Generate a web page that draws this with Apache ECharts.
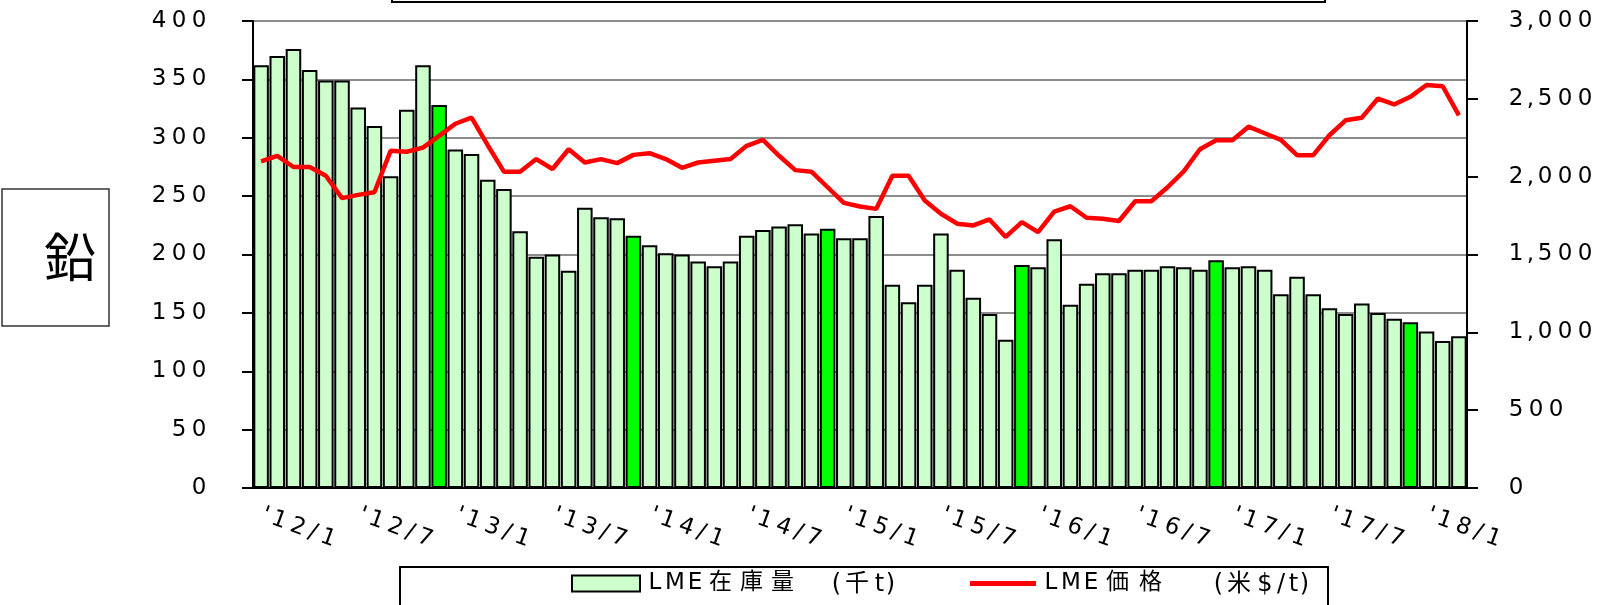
<!DOCTYPE html>
<html lang="ja">
<head>
<meta charset="UTF-8">
<title>鉛</title>
<style>html,body{margin:0;padding:0;background:#fff}</style>
</head>
<body>
<div id="main" style="width:1598px;height:605px"></div>
<script src="https://cdn.jsdelivr.net/npm/echarts@6/dist/echarts.min.js"></script>
<script>
// 月次カテゴリ '12/1 〜 '18/3
const months = [];
for (let y = 12; y <= 18; y++) {
  for (let m = 1; m <= 12; m++) {
    if (months.length < 75) months.push("'" + y + '/' + m);
  }
}

// LME在庫量 (千t)
const stock = [362, 370, 376, 358, 349, 349, 326, 310, 267, 324, 362, 328, 290, 286, 264,
  256, 220, 198, 200, 186, 240, 232, 231, 216, 208, 201, 200, 194, 190, 194,
  216, 221, 224, 226, 218, 222, 214, 214, 233, 174, 159, 174, 218, 187, 163,
  149, 127, 191, 189, 213, 157, 175, 184, 184, 187, 187, 190, 189, 187, 195,
  189, 190, 187, 166, 181, 166, 154, 149, 158, 150, 145, 142, 134, 126, 130];

// LME価格 (米$/t)
const price = [2098, 2134, 2062, 2062, 2006, 1862, 1883, 1900, 2166, 2160, 2187, 2262, 2340, 2379, 2202,
  2032, 2032, 2113, 2049, 2176, 2091, 2113, 2087, 2140, 2151, 2113, 2057, 2091, 2102, 2113,
  2198, 2236, 2134, 2042, 2032, 1932, 1832, 1808, 1793, 2006, 2006, 1847, 1762, 1698, 1687,
  1725, 1613, 1708, 1644, 1776, 1810, 1736, 1730, 1715, 1842, 1842, 1932, 2034, 2176, 2234,
  2234, 2321, 2279, 2236, 2138, 2138, 2266, 2362, 2379, 2502, 2464, 2513, 2589, 2581, 2394];

const FONT = "'DejaVu Sans', 'Noto Sans CJK JP', sans-serif";

// 元の図は横に広い書体なので、1文字ずつ幅を決めて並べる
function charClass(ch) {
  if (ch === 't') return 't';
  if (/[0-9A-Za-z$]/.test(ch)) return 'w';
  if (ch === '/') return 's';
  if (/[',()]/.test(ch)) return 'n';
  return 'k';
}
function spaced(s) {
  return s.split('').map(function (ch) { return '{' + charClass(ch) + '|' + ch + '}'; }).join('');
}
function richSet(size, kw) {
  const base = { fontSize: size, fontFamily: FONT, color: '#000', align: 'center', lineHeight: size + 2 };
  return {
    w: Object.assign({ width: 20 }, base),
    t: Object.assign({ width: 13 }, base),
    s: Object.assign({ width: 12 }, base),
    n: Object.assign({ width: 9 }, base),
    k: Object.assign({ width: kw || 31 }, base)
  };
}

const chart = echarts.init(document.getElementById('main'));

// 12月の棒だけ濃い緑
const barData = stock.map(function (v, i) {
  const isDec = months[i].endsWith('/12');
  return { value: v, itemStyle: { color: isDec ? '#00FF00' : '#CCFFCC' } };
});

const option = {
  animation: false,
  grid: {
    left: 253, right: 131, top: 21, bottom: 117,
    show: true, borderColor: '#000', borderWidth: 2, backgroundColor: 'transparent'
  },
  legend: [
    {
      data: [{ name: 'LME在庫量', icon: 'rect' }], left: 571, top: 572, padding: 0,
      itemWidth: 68, itemHeight: 16, itemGap: 0, selectedMode: false,
      formatter: spaced,
      textStyle: { fontSize: 23, color: '#000', fontFamily: FONT, rich: richSet(23, 31) }
    },
    {
      data: [{ name: 'LME価格', icon: 'rect' }], left: 970, top: 572, padding: 0,
      itemWidth: 66, itemHeight: 5, selectedMode: false,
      lineStyle: { width: 5, color: '#FF0000' },
      formatter: spaced,
      textStyle: { fontSize: 23, color: '#000', fontFamily: FONT, rich: richSet(23, 33) }
    }
  ],
  xAxis: {
    type: 'category',
    data: months,
    boundaryGap: true,
    axisLine: { lineStyle: { color: '#000', width: 2 } },
    axisTick: { interval: 5, length: 10, lineStyle: { color: '#000', width: 2 } },
    axisLabel: {
      interval: 5, rotate: -20, margin: 26,
      formatter: spaced,
      fontSize: 23, color: '#000', fontFamily: FONT, rich: richSet(23)
    }
  },
  yAxis: [
    {
      type: 'value', min: 0, max: 400, interval: 50,
      axisLine: { show: true, lineStyle: { color: '#000', width: 2 } },
      axisTick: { show: true, length: 11, lineStyle: { color: '#000', width: 2 } },
      splitLine: { lineStyle: { color: '#8c8c8c', width: 2 } },
      axisLabel: {
        margin: 44, fontSize: 23, color: '#000', fontFamily: FONT, rich: richSet(23),
        formatter: function (v) { return spaced(String(v)); }
      }
    },
    {
      type: 'value', position: 'right', min: 0, max: 3000, interval: 500,
      axisLine: { show: true, lineStyle: { color: '#000', width: 2 } },
      axisTick: { show: true, length: 11, lineStyle: { color: '#000', width: 2 } },
      splitLine: { show: false },
      axisLabel: {
        margin: 39, fontSize: 23, color: '#000', fontFamily: FONT, rich: richSet(23),
        formatter: function (v) { return spaced(v.toLocaleString('en-US')); }
      }
    }
  ],
  series: [
    {
      name: 'LME在庫量',
      type: 'bar',
      data: barData,
      barCategoryGap: '4%',
      itemStyle: { color: '#CCFFCC', borderColor: '#000', borderWidth: 2 },
      z: 2
    },
    {
      name: 'LME価格',
      type: 'line',
      yAxisIndex: 1,
      data: price,
      symbol: 'none',
      lineStyle: { color: '#FF0000', width: 4.5 },
      itemStyle: { color: '#FF0000' },
      z: 3
    }
  ],
  graphic: [
    // 上端で切れているタイトル枠
    { type: 'rect', shape: { x: 392, y: -20, width: 933, height: 22 },
      style: { fill: 'none', stroke: '#000', lineWidth: 2 } },
    // 凡例枠
    { type: 'rect', shape: { x: 400, y: 567, width: 928, height: 60 },
      style: { fill: 'none', stroke: '#000', lineWidth: 2 } },
    // 鉛
    { type: 'rect', shape: { x: 2, y: 189, width: 107, height: 137 },
      style: { fill: '#fff', stroke: '#333', lineWidth: 1.5 } },
    { type: 'text', x: 70, y: 257,
      style: { text: '鉛', fontSize: 52, fill: '#000', fontFamily: "'Noto Sans CJK JP'",
        align: 'center', verticalAlign: 'middle' } },
    { type: 'text', x: 832, y: 585,
      style: { text: spaced('(千t)'), rich: richSet(24, 32), verticalAlign: 'middle' } },
    { type: 'text', x: 1214, y: 585,
      style: { text: spaced('(米$/t)'), rich: richSet(24, 32), verticalAlign: 'middle' } }
  ]
};

chart.setOption(option);
</script>
</body>
</html>
